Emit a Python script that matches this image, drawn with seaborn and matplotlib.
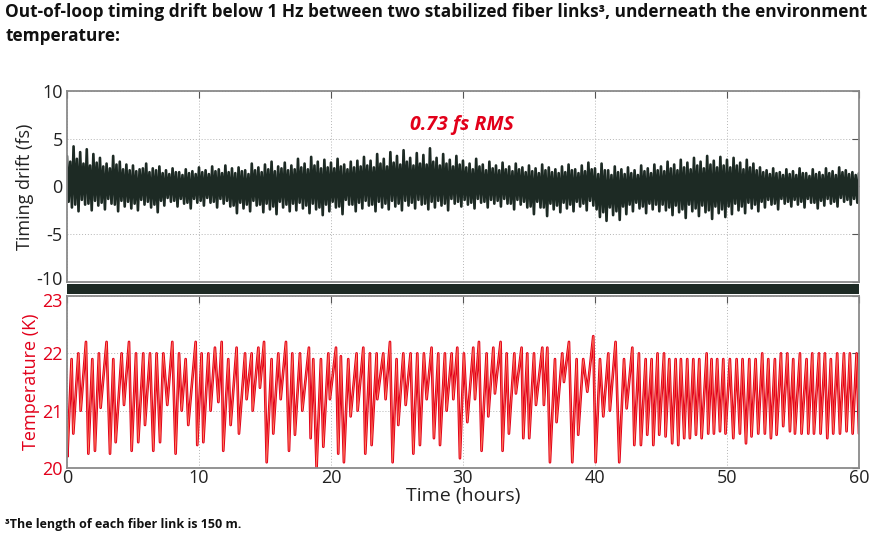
import numpy as np
import pandas as pd
import matplotlib
matplotlib.use("Agg")
import matplotlib.pyplot as plt
import matplotlib.transforms as mtransforms
import seaborn as sns

# timing drift (fs), read in 0.5 h blocks: upper spike at t, lower at t+0.125,
# upper at t+0.25, lower at t+0.375
drift_hi = [3.2, 4.2, 3.6, 3.9, 3.4, 3.0, 2.4, 3.2, 2.6, 2.3,
            2.2, 1.8, 2.4, 1.9, 2.1, 1.7, 1.9, 1.5, 1.8, 1.6,
            2.0, 1.7, 2.1, 1.8, 2.2, 1.9, 2.0, 1.7, 2.4, 2.0,
            2.3, 2.6, 2.1, 2.5, 2.2, 2.9, 2.4, 3.1, 2.6, 2.8,
            2.5, 2.9, 2.3, 2.6, 2.7, 3.1, 2.7, 3.4, 2.9, 3.6,
            3.2, 3.8, 3.0, 3.5, 3.3, 4.0, 3.0, 3.4, 2.8, 3.2,
            2.7, 2.4, 2.9, 2.3, 2.6, 2.2, 2.5, 2.1, 2.4, 2.0,
            2.2, 1.9, 2.3, 2.0, 1.8, 2.1, 2.3, 1.8, 2.2, 2.5,
            1.9, 2.4, 1.7, 2.1, 1.8, 2.0, 1.7, 2.2, 1.9, 2.3,
            2.1, 2.6, 2.3, 2.8, 2.5, 3.0, 2.6, 3.2, 2.7, 3.1,
            2.8, 3.0, 2.5, 2.8, 2.4, 2.0, 1.7, 1.9, 1.5, 1.8,
            1.6, 1.9, 1.4, 1.8, 1.5, 1.9, 1.6, 2.0, 1.7, 1.5,
            1.4]
drift_lo_a = [-1.6, -1.9, -1.4, -1.8, -1.5, -1.7, -1.3, -1.9, -1.5, -1.6,
              -1.8, -1.4, -1.6, -1.9, -1.5, -1.2, -1.5, -1.3, -1.7, -1.3,
              -1.5, -1.2, -1.6, -1.3, -1.5, -2.0, -1.7, -1.9, -1.5, -1.9,
              -1.8, -2.1, -1.6, -1.9, -1.8, -1.7, -2.0, -1.8, -2.2, -1.9,
              -1.6, -2.1, -1.4, -1.9, -1.7, -1.5, -1.9, -1.6, -1.8, -1.5,
              -1.8, -1.5, -1.7, -1.4, -1.8, -1.6, -1.5, -1.8, -1.3, -1.6,
              -1.4, -1.7, -1.3, -1.6, -1.4, -1.5, -1.3, -1.8, -1.4, -1.6,
              -2.1, -1.6, -2.2, -1.8, -2.0, -1.7, -1.9, -1.6, -1.8, -1.5,
              -2.4, -2.7, -2.2, -2.6, -2.1, -1.9, -1.7, -2.1, -1.8, -1.9,
              -1.9, -2.2, -2.0, -2.4, -1.9, -2.3, -2.0, -2.5, -2.1, -2.4,
              -2.1, -1.8, -2.1, -1.7, -1.9, -1.6, -1.4, -1.8, -1.3, -1.6,
              -1.4, -1.6, -1.3, -1.7, -1.5, -1.3, -1.6, -1.2, -1.4, -1.3]
drift_hi_b = [2.6, 2.9, 2.4, 2.2, 2.5, 2.1, 1.9, 2.3, 1.8, 1.7,
              1.6, 1.9, 1.5, 1.7, 1.4, 1.3, 1.5, 1.2, 1.4, 1.3,
              1.5, 1.3, 1.6, 1.4, 1.5, 1.4, 1.6, 1.3, 1.7, 1.5,
              1.8, 1.6, 1.9, 1.7, 1.8, 2.0, 1.8, 2.2, 1.9, 2.0,
              1.9, 2.1, 1.8, 2.0, 2.1, 2.2, 2.0, 2.4, 2.1, 2.5,
              2.3, 2.6, 2.2, 2.4, 2.3, 2.6, 2.2, 2.4, 2.1, 2.3,
              2.0, 1.8, 2.1, 1.7, 1.9, 1.7, 1.8, 1.6, 1.8, 1.5,
              1.6, 1.4, 1.7, 1.5, 1.4, 1.5, 1.7, 1.4, 1.6, 1.8,
              1.3, 1.7, 1.2, 1.5, 1.3, 1.4, 1.2, 1.6, 1.4, 1.7,
              1.6, 1.9, 1.7, 2.0, 1.8, 2.2, 1.9, 2.3, 2.0, 2.2,
              2.0, 2.2, 1.8, 2.0, 1.7, 1.5, 1.3, 1.4, 1.2, 1.3,
              1.2, 1.4, 1.1, 1.3, 1.2, 1.4, 1.2, 1.5, 1.3, 1.2]
drift_lo = [-2.2, -2.6, -1.9, -2.5, -2.0, -2.4, -1.8, -2.6, -2.1, -2.3,
            -2.5, -1.9, -2.2, -2.7, -2.0, -1.6, -2.1, -1.8, -2.3, -1.7,
            -2.0, -1.7, -2.2, -1.8, -2.1, -2.8, -2.3, -2.6, -2.0, -2.7,
            -2.4, -2.9, -2.2, -2.6, -2.5, -2.3, -2.8, -2.4, -3.0, -2.6,
            -2.2, -2.9, -1.9, -2.6, -2.3, -2.0, -2.6, -2.2, -2.4, -2.1,
            -2.5, -2.0, -2.3, -1.9, -2.4, -2.2, -2.0, -2.5, -1.8, -2.1,
            -1.9, -2.3, -1.7, -2.2, -1.8, -2.1, -1.8, -2.4, -1.9, -2.2,
            -2.9, -2.2, -3.1, -2.4, -2.7, -2.3, -2.6, -2.1, -2.5, -2.0,
            -3.2, -3.6, -3.0, -3.5, -2.9, -2.6, -2.3, -2.8, -2.4, -2.6,
            -2.5, -3.0, -2.7, -3.3, -2.6, -3.1, -2.7, -3.4, -2.8, -3.2,
            -2.9, -2.5, -2.8, -2.3, -2.6, -2.2, -1.9, -2.4, -1.8, -2.1,
            -1.9, -2.2, -1.7, -2.3, -2.0, -1.8, -2.1, -1.6, -1.9, -1.7]

# environment temperature (K): turning points of the trace
temp_t = [0, 0.03, 0.35, 0.48, 0.86, 1.04, 1.44, 1.62, 1.92, 2.12, 2.42, 2.55, 3.0, 3.26, 3.51, 3.69,
          4.14, 4.32, 4.7, 4.9, 5.23, 5.4, 5.78, 5.91, 6.29, 6.54, 6.79, 7.05, 7.3, 7.6, 7.98, 8.23,
          8.49, 8.69, 8.99, 9.19, 9.75, 9.87, 10.2, 10.33, 10.71, 10.88, 11.21, 11.47, 11.72, 11.84,
          12.22, 12.4, 12.85, 13.03, 13.49, 13.61, 13.99, 14.07, 14.5, 14.62, 14.93, 15.13,
          15.5, 15.63, 16.01, 16.19, 16.59, 16.82, 17.07, 17.27, 17.65, 17.83, 18.33, 18.46, 18.66, 18.91,
          19.24, 19.42, 19.8, 19.92, 20.38, 20.55, 20.75, 20.98, 21.31, 21.49, 21.94, 22.02, 22.45, 22.6,
          22.95, 23.08, 23.46, 23.51, 23.96, 24.14, 24.47, 24.67, 24.97, 25.1, 25.48, 25.66, 26.03, 26.24,
          26.54, 26.74, 27.04, 27.25, 27.62, 27.8, 28.13, 28.26, 28.63, 28.76, 29.14, 29.27, 29.57, 29.77,
          30.07, 30.33, 30.78, 30.91, 31.21, 31.41, 31.79, 31.92, 32.3, 32.42, 32.85, 33.0, 33.31, 33.48,
          33.89, 34.01, 34.44, 34.57, 34.87, 35.02, 35.38, 35.53, 36.01, 36.13, 36.39, 36.59, 36.97, 37.09,
          37.52, 37.65, 38.03, 38.28, 38.61, 38.73, 39.11, 39.42, 39.87, 40.05, 40.38, 40.63, 41.01, 41.13,
          41.56, 41.84, 42.2, 42.4, 42.83, 42.98, 43.33, 43.48, 43.84, 43.96, 44.29, 44.42, 44.74, 44.87,
          45.23, 45.35, 45.63, 45.85, 46.11, 46.31, 46.51, 46.76, 46.99, 47.19, 47.45, 47.65, 47.9, 48.08,
          48.46, 48.58, 48.83, 49.01, 49.26, 49.47, 49.72, 49.89, 50.22, 50.48, 50.73, 50.98, 51.18, 51.44,
          51.69, 51.86, 52.17, 52.37, 52.67, 52.87, 53.13, 53.33, 53.63, 53.76, 54.09, 54.26, 54.57, 54.77,
          55.02, 55.15, 55.53, 55.65, 56.03, 56.16, 56.46, 56.59, 56.97, 57.09, 57.42, 57.6, 57.87, 58.05,
          58.35, 58.56, 58.86, 59.06, 59.31, 59.52, 59.82, 60.0]
temp_k = [20.7, 20.2, 21.9, 20.6, 22.0, 21.0, 22.2, 20.25, 21.9, 20.3, 22.0, 21.05, 22.2, 20.25, 21.9, 20.45,
          22.0, 21.1, 22.2, 20.3, 22.0, 20.45, 22.0, 20.75, 22.0, 20.3, 22.0, 20.45, 22.0, 21.1, 22.2, 20.25,
          22.0, 21.0, 21.9, 20.75, 22.2, 20.4, 22.0, 20.45, 22.0, 21.0, 22.1, 21.15, 22.2, 20.3,
          21.9, 20.75, 22.1, 20.6, 22.0, 21.2, 22.0, 21.0, 22.1, 21.4, 22.2, 20.1,
          21.9, 20.6, 22.0, 21.2, 22.2, 20.3, 22.0, 20.58, 22.0, 21.0, 22.1, 20.52, 21.9, 20.0,
          21.9, 20.37, 22.0, 21.2, 22.1, 20.25, 21.95, 20.1, 21.9, 20.9, 22.0, 21.0, 22.1, 20.25,
          22.0, 20.4, 22.0, 21.2, 22.0, 21.2, 22.2, 20.1, 21.9, 20.75, 22.0, 21.1, 22.0, 20.25,
          22.0, 20.4, 22.0, 21.2, 22.1, 20.52, 22.0, 20.4, 22.0, 21.0, 22.0, 21.2, 22.1, 20.17,
          22.0, 20.8, 22.1, 21.2, 22.2, 20.3, 22.0, 20.9, 22.1, 21.3, 22.2, 20.3, 22.0, 20.6,
          22.0, 21.3, 22.1, 20.52, 22.0, 20.52, 22.0, 21.1, 22.1, 21.1, 22.1, 20.1, 21.9, 20.8,
          22.0, 21.5, 22.2, 20.1, 21.9, 20.58, 21.9, 21.33, 22.3, 20.1, 21.9, 20.9, 22.0, 21.0,
          22.2, 20.1, 21.9, 21.04, 22.1, 20.4, 22.0, 20.4, 21.9, 20.58, 21.9, 20.4, 22.0, 20.58,
          22.0, 20.55, 21.9, 20.43, 21.9, 20.4, 21.9, 20.52, 21.9, 20.52, 21.9, 20.58, 21.9, 20.52,
          22.0, 20.6, 21.9, 20.6, 21.9, 20.64, 21.9, 20.6, 21.9, 20.52, 21.9, 20.6, 21.9, 20.43,
          21.9, 20.55, 21.9, 20.6, 22.0, 20.6, 21.9, 20.52, 21.9, 20.58, 22.0, 20.73, 22.0, 20.64,
          21.9, 20.6, 22.0, 20.6, 21.9, 20.6, 22.0, 20.6, 22.0, 20.6, 22.0, 20.52, 21.9, 20.6,
          22.0, 20.6, 22.0, 20.64, 22.0, 20.6, 22.0, 20.6]

x_ticks = [0, 10, 20, 30, 40, 50, 60]
drift_ticks = [-10, -5, 0, 5, 10]
temp_ticks = [20, 21, 22, 23]

# put the drift readings back in time order, one every 0.125 h
blocks = np.column_stack([drift_hi[:-1], drift_lo_a, drift_hi_b, drift_lo]).ravel()
drift_val = np.append(blocks, drift_hi[-1])
drift = pd.DataFrame({"t": np.arange(len(drift_val)) * 0.125, "fs": drift_val})
temp = pd.DataFrame({"t": temp_t, "K": temp_k})

sns.set_theme(style="white")
plt.rcParams["font.family"] = ["Open Sans", "DejaVu Sans"]
plt.rcParams["axes.unicode_minus"] = False

dark = "#1d2a24"
red = "#e2001a"
box = "#8a8a8a"

fig = plt.figure(figsize=(8.87, 5.4), dpi=100)
ax1 = fig.add_axes([0.0755, 0.4778, 0.8929, 0.3537])
bar = fig.add_axes([0.0755, 0.4556, 0.8929, 0.0185])
ax2 = fig.add_axes([0.0755, 0.1333, 0.8929, 0.3185])

# top: timing drift
sns.lineplot(data=drift, x="t", y="fs", ax=ax1, color=dark, lw=1.9, estimator=None, sort=False)
ax1.set_xlim(0, 60)
ax1.set_ylim(-10, 10)
ax1.set_yticks(drift_ticks)
ax1.set_xticks(x_ticks)
ax1.set_xticklabels([])
ax1.set_xlabel("")
ax1.set_ylabel("Timing drift (fs)", fontsize=13, color="#222222", labelpad=2)
ax1.text(29.9, 6.4, "0.73 fs RMS", color=red, fontsize=14, fontweight="bold",
         fontstyle="italic", ha="center", va="center")

# dark strip between the two panels
bar.set_facecolor(dark)
bar.set_xticks([])
bar.set_yticks([])
for s in bar.spines.values():
    s.set_visible(False)

# bottom: temperature
sns.lineplot(data=temp, x="t", y="K", ax=ax2, color=red, lw=1.9, estimator=None, sort=False)
sns.lineplot(data=temp, x="t", y="K", ax=ax2, color="#ff7a5c", lw=0.5, estimator=None, sort=False)
ax2.set_xlim(0, 60)
ax2.set_ylim(20, 23)
ax2.set_yticks(temp_ticks)
ax2.set_xticks(x_ticks)
ax2.set_xlabel("Time (hours)", fontsize=14, color="#222222", labelpad=0)
ax2.set_ylabel("Temperature (K)", fontsize=13, color=red, labelpad=2)

for ax in (ax1, ax2):
    ax.grid(True, linestyle=(0, (1, 2)), color="#b5b5b5", lw=0.7)
    ax.tick_params(direction="in", length=5, width=0.8, color="#555555", top=True, right=True,
                   labelsize=13)
    ax.tick_params(axis="x", labelcolor="#222222", pad=1)
    ax.tick_params(axis="y", pad=3)
    for s in ax.spines.values():
        s.set_color(box)
        s.set_linewidth(1.3)
ax1.tick_params(axis="y", labelcolor="#222222")
ax2.tick_params(axis="y", labelcolor=red)

# keep "-10" and "23" from running into each other across the strip
up = mtransforms.ScaledTranslation(0, 3 / 72, fig.dpi_scale_trans)
down = mtransforms.ScaledTranslation(0, -3 / 72, fig.dpi_scale_trans)
lab = ax1.yaxis.get_major_ticks()[0].label1
lab.set_transform(lab.get_transform() + up)
lab = ax2.yaxis.get_major_ticks()[-1].label1
lab.set_transform(lab.get_transform() + down)

fig.text(0.006, 0.978, "Out-of-loop timing drift below 1 Hz between two stabilized fiber links\u00b3, "
         "underneath the environment", fontsize=12.4, fontweight="bold", color="#111111", va="center")
fig.text(0.006, 0.933, "temperature:", fontsize=12.4, fontweight="bold", color="#111111", va="center")
fig.text(0.006, 0.028, "\u00b3The length of each fiber link is 150 m.", fontsize=9,
         fontweight="bold", color="#111111", va="center")

fig.savefig("out.png", dpi=100)
